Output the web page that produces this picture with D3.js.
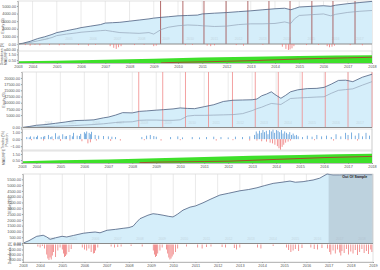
<!DOCTYPE html>
<html>
<head>
<meta charset="utf-8">
<script src="https://cdn.jsdelivr.net/npm/d3@7"></script>
<style>
body { margin: 0; background: #fff; }
svg text { font-family: "Liberation Sans", Arial, sans-serif; }
</style>
</head>
<body>
<svg id="chart" width="380" height="270"></svg>
<script>
// ---------- data ----------
var yearLabels = ["2003","2004","2005","2006","2007","2008","2009","2010","2011","2012","2013","2014","2015","2016","2017","2018"];
var p1TickVals = [2003.4,2004,2005,2006,2007,2008,2009,2010,2011,2012,2013,2014,2015,2016,2017,2018];

// panel 1 - equity
var p1Dates = [2003.4,2003.6,2003.9,2004.2,2004.5,2004.8,2005.0,2005.4,2005.8,2006.0,2006.4,2006.8,2007.0,2007.3,2007.6,2008.0,2008.4,2008.8,2009.0,2009.3,2009.6,2010.0,2010.4,2010.8,2011.0,2011.5,2012.0,2012.5,2013.0,2013.5,2014.0,2014.4,2014.65,2014.8,2015.0,2015.5,2016.0,2016.3,2016.5,2017.0,2017.5,2018.0];
var p1Equity = [0,100,350,700,950,1250,1500,1750,2000,2150,2350,2550,2750,2800,2850,3000,3150,3300,3400,3500,3580,3700,3750,3800,3950,4050,4130,4250,4360,4500,4630,4700,4500,4650,4860,4950,5030,4950,5100,5300,5450,5600];
var p1Equity2 = [0,50,200,400,600,850,1100,1300,1450,1550,1650,1750,1800,1650,1500,1450,1400,1500,1300,1900,2200,2400,2500,2450,2400,2300,2350,2550,2650,2650,2700,2900,2700,3300,3750,3850,3950,3700,3900,4150,4300,4400];
var p1Reopt = [2009.28,2010.2,2011.07,2011.98,2012.88,2013.75,2014.62,2015.52,2016.39,2017.3];
var p1DdDates = [2003.7,2003.9,2004.1,2004.3,2004.7,2005.1,2005.3,2005.9,2006.3,2006.6,2007.2,2007.35,2007.45,2007.55,2007.65,2008.2,2008.6,2009.0,2009.1,2010.3,2010.6,2011.2,2011.35,2011.5,2012.4,2012.7,2013.5,2014.3,2014.45,2014.55,2014.62,2014.7,2014.78,2015.3,2015.8,2016.15,2016.25,2016.35,2016.45,2017.1,2017.6];
var p1DdVals = [-10,-15,-8,-12,-10,-12,-8,-10,-15,-8,-20,-35,-45,-30,-20,-10,-8,-20,-15,-10,-8,-15,-20,-12,-10,-15,-8,-25,-45,-55,-50,-40,-20,-10,-8,-20,-30,-25,-15,-10,-12];
var p1IndDates = [2003.4,2005,2007,2009,2011,2013,2015,2016.5,2018];
var p1Green = [0.3,0.4,0.55,0.75,0.95,1.1,1.2,1.3,1.35];
var p1BrownDates = [2009.3,2010,2011,2012,2013,2014,2015,2016,2017,2018];
var p1Brown = [0.02,0.12,0.2,0.3,0.4,0.55,0.7,0.8,0.9,1.0];

// panel 2 - equity
var p2Dates = [2003.4,2003.7,2004.0,2004.4,2004.8,2005.2,2005.6,2006.0,2006.4,2006.8,2007.0,2007.3,2007.6,2008.0,2008.3,2008.6,2009.0,2009.3,2009.7,2010.0,2010.3,2010.6,2011.0,2011.4,2011.8,2012.2,2012.6,2013.0,2013.2,2013.4,2013.6,2013.8,2014.0,2014.2,2014.4,2014.6,2014.9,2015.3,2015.7,2016.0,2016.3,2016.6,2016.9,2017.2,2017.6,2018.0];
var p2Equity = [0,400,900,1200,1700,2200,2800,2900,3100,3900,4200,5000,6000,5900,6500,6700,7000,7200,7500,7900,7700,7600,8400,9200,10500,11000,11100,11200,11500,12800,13500,14400,13000,11800,13000,14400,15200,15700,15800,16200,17500,19000,19100,18500,20300,21500];
var p2Equity2 = [0,100,200,350,500,650,800,1000,1200,1500,1700,2000,2200,2300,2900,3000,3000,2900,2900,3100,4600,4900,4900,5000,5100,5200,5600,6800,7600,8200,9000,9700,9500,9300,10500,11700,11900,12100,12300,12400,13800,15000,15300,15600,17100,18500];
var p2Reopt = [2008.27,2009.27,2010.22,2011.18,2012.18,2013.13,2014.09,2015.09,2016.05,2017.0,2018.0];
var p2PosDates = [2003.6,2003.7,2003.75,2003.9,2004.0,2004.05,2004.2,2004.3,2004.35,2004.5,2004.6,2004.65,2004.8,2004.9,2004.95,2005.1,2005.2,2005.25,2005.4,2005.5,2005.55,2005.7,2005.8,2005.85,2006.0,2006.05,2006.1,2006.2,2006.25,2006.3,2006.45,2006.6,2006.8,2007.0,2007.15,2007.3,2008.4,2008.6,2008.75,2008.9,2009.0,2009.6,2009.9,2010.1,2010.5,2010.8,2011.1,2011.4,2011.7,2012.0,2012.3,2012.6,2012.9,2013.1,2013.17,2013.24,2013.31,2013.38,2013.45,2013.52,2013.59,2013.66,2013.73,2013.8,2013.87,2013.94,2014.01,2014.08,2014.15,2014.22,2014.29,2014.36,2014.43,2014.5,2014.57,2014.64,2014.71,2014.78,2014.85,2014.92,2015.1,2015.3,2015.5,2015.7,2015.9,2016.1,2016.3,2016.5,2016.7,2016.9,2017.0,2017.15,2017.3,2017.45,2017.6,2017.75,2017.9];
var p2PosVals = [0.3,0.25,0.4,0.35,0.3,0.5,0.3,0.35,0.45,0.6,0.3,0.4,0.85,0.35,0.5,0.7,0.4,0.45,0.6,0.4,0.9,0.5,0.45,0.75,1.0,0.8,1.1,0.9,0.7,1.05,0.6,0.5,0.45,0.4,0.35,0.3,0.3,0.5,0.6,0.45,0.35,0.3,0.4,0.25,0.3,0.25,0.3,0.35,0.3,0.25,0.35,0.3,0.4,0.6,1.1,0.8,1.2,0.9,1.3,1.0,1.2,0.7,1.3,1.1,1.35,0.9,1.3,1.2,1.0,1.3,0.8,1.1,0.9,0.7,1.0,0.6,0.8,0.5,0.6,0.4,0.3,0.5,0.35,0.6,0.4,0.5,0.3,0.7,0.4,0.9,0.6,0.95,0.5,0.85,0.4,0.9,0.5];
var p2NegDates = [2003.8,2004.3,2004.7,2005.0,2005.4,2005.9,2006.15,2006.25,2006.5,2007.1,2007.5,2008.5,2009.2,2010.0,2011.5,2012.2,2012.9,2013.2,2013.4,2013.6,2013.75,2013.85,2013.95,2014.05,2014.12,2014.18,2014.25,2014.32,2014.4,2014.5,2014.6,2015.6,2016.4,2017.0,2017.4];
var p2NegVals = [-0.15,-0.2,-0.15,-0.25,-0.2,-0.3,-0.6,-0.45,-0.2,-0.25,-0.2,-0.15,-0.2,-0.15,-0.2,-0.15,-0.2,-0.2,-0.3,-0.35,-0.5,-0.6,-0.8,-1.0,-1.3,-1.5,-1.1,-0.8,-0.5,-0.35,-0.2,-0.15,-0.2,-0.15,-0.2];
var p2IndDates = [2003.4,2005,2007,2009,2011,2013,2015,2016.5,2018];
var p2Green = [0.3,0.45,0.6,0.8,1.0,1.2,1.35,1.45,1.55];
var p2BrownDates = [2008.3,2009,2010,2011,2012,2013,2014,2015,2016,2017,2018];
var p2Brown = [0.05,0.15,0.2,0.25,0.3,0.45,0.6,0.75,0.9,1.0,1.1];

// panel 3 - combined out-of-sample equity
var p3TickVals = [2003.23,2004,2005,2006,2007,2008,2009,2010,2011,2012,2013,2014,2015,2016,2017,2018,2019];
var p3TickLabels = ["2003","2004","2005","2006","2007","2008","2009","2010","2011","2012","2013","2014","2015","2016","2017","2018","2019"];
var p3Dates = [2003.25,2003.5,2003.85,2004.0,2004.14,2004.3,2004.45,2004.7,2004.99,2005.2,2005.5,2005.94,2006.2,2006.48,2006.7,2007.02,2007.4,2007.74,2008.0,2008.19,2008.35,2008.5,2008.86,2009.09,2009.3,2009.54,2009.8,2009.99,2010.2,2010.44,2010.76,2011.0,2011.34,2011.7,2012.1,2012.5,2013.0,2013.4,2013.77,2014.1,2014.5,2014.9,2015.26,2015.5,2015.85,2016.1,2016.3,2016.6,2016.93,2017.2,2017.5,2017.8,2018.2,2018.6,2018.95];
var p3Equity = [0,200,580,620,670,520,320,450,580,520,650,840,900,950,880,1100,1180,1270,1330,1450,1800,2100,2400,2530,2480,2400,2300,2250,2500,2840,3100,3200,3470,3800,4140,4300,4510,4620,4770,4950,5150,5250,5350,5250,5300,5380,5440,5600,5960,5870,5870,5900,5880,5900,5900];
var p3OosStart = 2017.0;
var p3DdDates = [2003.9,2004.0,2004.1,2004.2,2004.3,2004.35,2004.4,2004.45,2004.5,2004.55,2004.6,2004.7,2004.8,2004.9,2005.0,2005.05,2005.1,2005.15,2005.2,2005.3,2005.4,2005.9,2006.0,2006.1,2006.2,2006.3,2006.4,2006.45,2006.5,2006.6,2007.2,2007.35,2007.5,2007.65,2008.1,2008.6,2009.1,2009.15,2009.2,2009.25,2009.3,2009.4,2009.5,2009.7,2009.75,2009.8,2009.85,2009.9,2009.95,2010.0,2010.1,2010.2,2010.6,2011.1,2011.3,2011.5,2011.7,2012.2,2012.35,2012.75,2012.85,2013.0,2013.8,2013.95,2014.5,2015.1,2015.2,2015.3,2015.4,2015.5,2015.65,2015.8,2016.2,2016.35,2016.5,2016.7,2016.95,2017.05,2017.1,2017.2,2017.3,2017.4,2017.5,2017.55,2017.6,2017.7,2017.8,2017.9,2018.0,2018.1,2018.2,2018.3,2018.4,2018.5,2018.6,2018.7,2018.8,2018.9,2018.95];
var p3DdVals = [-40,-60,-30,-80,-200,-280,-310,-260,-300,-220,-150,-250,-120,-60,-100,-180,-250,-230,-200,-150,-90,-60,-100,-120,-80,-150,-180,-170,-120,-60,-40,-60,-50,-40,-30,-40,-120,-200,-250,-230,-180,-120,-60,-100,-180,-260,-300,-280,-240,-200,-150,-80,-40,-60,-80,-50,-40,-50,-60,-70,-100,-60,-60,-80,-30,-60,-110,-150,-120,-90,-130,-70,-60,-90,-100,-70,-80,-150,-200,-120,-180,-100,-160,-220,-130,-170,-90,-200,-140,-180,-110,-210,-150,-90,-170,-130,-190,-100,-150];

// ---------- drawing ----------
var svg = d3.select("#chart");
var fmt = d3.format(".2f");

var styleAxis = function(g)
{
    g.attr("font-size", 3.8).attr("font-family", "Liberation Sans, Arial, sans-serif");
    g.selectAll("text").attr("fill", "#555");
    g.selectAll("line").attr("stroke", "#999");
    g.select(".domain").attr("stroke", "#bbb");
}

var frame = function(x0, x1, y0, y1)
{
    svg.append("rect")
        .attr("x", x0).attr("y", y0)
        .attr("width", x1 - x0).attr("height", y1 - y0)
        .attr("fill", "none")
        .attr("stroke", "#ccc")
        .attr("stroke-width", 0.6)
}

var yTitle = function(txt, x, y)
{
    svg.append("text")
        .attr("transform", "translate(" + x + "," + y + ") rotate(-90)")
        .attr("text-anchor", "middle")
        .attr("font-size", 3.6)
        .attr("fill", "#555")
        .text(txt)
}

var drawEquity = function(xs, ys, dates, vals, vals2, top, bottom, gridTicks, reopt, reoptColor)
{
    // year grid
    svg.append("g").selectAll("line")
        .data(gridTicks)
        .enter()
        .append("line")
        .attr("x1", d => xs(d)).attr("x2", d => xs(d))
        .attr("y1", top).attr("y2", bottom)
        .attr("stroke", "#dcdcdc")
        .attr("stroke-width", 0.6)

    var pts = dates.map((d, i) => [d, vals[i]]);
    var area = d3.area().x(d => xs(d[0])).y0(ys(0)).y1(d => ys(d[1]));
    var line = d3.line().x(d => xs(d[0])).y(d => ys(d[1]));

    svg.append("path")
        .datum(pts)
        .attr("d", area)
        .attr("fill", "#d5eefa")

    // faint year text inside the plot
    svg.append("g").selectAll("text")
        .data(gridTicks.slice(1, gridTicks.length - 1))
        .enter()
        .append("text")
        .attr("x", d => xs(d + 0.5))
        .attr("y", bottom - 4)
        .attr("text-anchor", "middle")
        .attr("font-size", 3.4)
        .attr("fill", "#c4d6e2")
        .text(d => Math.round(d))

    if (reopt)
    {
        svg.append("g").selectAll("line")
            .data(reopt)
            .enter()
            .append("line")
            .attr("x1", d => xs(d)).attr("x2", d => xs(d))
            .attr("y1", top).attr("y2", bottom)
            .attr("stroke", reoptColor)
            .attr("stroke-width", 0.8)
    }

    if (vals2)
    {
        svg.append("path")
            .datum(dates.map((d, i) => [d, vals2[i]]))
            .attr("d", line)
            .attr("fill", "none")
            .attr("stroke", "#93a3b8")
            .attr("stroke-width", 0.7)
    }

    svg.append("path")
        .datum(pts)
        .attr("d", line)
        .attr("fill", "none")
        .attr("stroke", "#4d5f80")
        .attr("stroke-width", 0.8)

    svg.append("line")
        .attr("x1", xs.range()[0]).attr("x2", xs.range()[1])
        .attr("y1", bottom).attr("y2", bottom)
        .attr("stroke", "#8a8a8a")
        .attr("stroke-width", 1)
}

var drawBars = function(xs, ys, dates, vals, color)
{
    svg.append("g").selectAll("rect")
        .data(dates.map((d, i) => [d, vals[i]]))
        .enter()
        .append("rect")
        .attr("x", d => xs(d[0]) - 0.4)
        .attr("width", 0.8)
        .attr("y", d => Math.min(ys(0), ys(d[1])))
        .attr("height", d => Math.abs(ys(d[1]) - ys(0)))
        .attr("fill", color)
}

var drawIndicator = function(xs, ys, dates, green, bDates, brown)
{
    svg.append("path")
        .datum(dates.map((d, i) => [d, green[i]]))
        .attr("d", d3.area().x(d => xs(d[0])).y0(ys(0)).y1(d => ys(d[1])))
        .attr("fill", "#3ee02a")
    svg.append("path")
        .datum(bDates.map((d, i) => [d, brown[i]]))
        .attr("d", d3.line().x(d => xs(d[0])).y(d => ys(d[1])))
        .attr("fill", "none")
        .attr("stroke", "#a0522d")
        .attr("stroke-width", 1)
}

// ===== panel 1 =====
var x1 = d3.scaleLinear().domain([2003.4, 2018]).range([18, 372]);
var y1 = d3.scaleLinear().domain([0, 5650]).range([44, 1]);
var y1dd = d3.scaleLinear().domain([-60, 0]).range([50.5, 44]);
var y1ind = d3.scaleLinear().domain([0, 2]).range([63, 51.5]);

frame(18, 372, 1, 63);
drawEquity(x1, y1, p1Dates, p1Equity, p1Equity2, 1, 44, p1TickVals, p1Reopt, "#a04646");
drawBars(x1, y1dd, p1DdDates, p1DdVals, "#ee7a7a");
frame(18, 372, 51, 63);
drawIndicator(x1, y1ind, p1IndDates, p1Green, p1BrownDates, p1Brown);

svg.append("g").attr("transform", "translate(18,0)")
    .call(d3.axisLeft(y1).tickValues([0,1000,2000,3000,4000,5000]).tickFormat(fmt).tickSize(1).tickPadding(1))
    .call(styleAxis);
svg.append("g").attr("transform", "translate(18,0)")
    .call(d3.axisLeft(y1dd).tickValues([-50]).tickFormat(fmt).tickSize(1).tickPadding(1))
    .call(styleAxis);
svg.append("g").attr("transform", "translate(18,0)")
    .call(d3.axisLeft(y1ind).tickValues([0.5, 1.5]).tickFormat(fmt).tickSize(1).tickPadding(1))
    .call(styleAxis);
svg.append("g").attr("transform", "translate(0,63)")
    .call(d3.axisBottom(x1).tickValues(p1TickVals).tickFormat((d, i) => yearLabels[i]).tickSize(1).tickPadding(1))
    .call(styleAxis);
yTitle("Equity ($)", 4, 26);
yTitle("Drawdown ($)", 3, 54);
yTitle("MAE/MFE", 7, 57);

// ===== panel 2 =====
var x2 = d3.scaleLinear().domain([2003.4, 2018]).range([22, 372]);
var y2 = d3.scaleLinear().domain([0, 22400]).range([127.5, 72]);
var y2b = d3.scaleLinear().domain([-1.55, 1.45]).range([150, 129]);
var y2ind = d3.scaleLinear().domain([0, 2]).range([163, 151]);

frame(22, 372, 72, 163);
drawEquity(x2, y2, p2Dates, p2Equity, p2Equity2, 72, 127.5, p1TickVals, p2Reopt, "#f08a8a");
frame(22, 372, 129, 150);
drawBars(x2, y2b, p2PosDates, p2PosVals, "#5b9bd8");
drawBars(x2, y2b, p2NegDates, p2NegVals, "#ee7a7a");
frame(22, 372, 151, 163);
drawIndicator(x2, y2ind, p2IndDates, p2Green, p2BrownDates, p2Brown);

svg.append("g").attr("transform", "translate(22,0)")
    .call(d3.axisLeft(y2).tickValues([0,5000,7500,10000,12500,15000,17500,20000]).tickFormat(fmt).tickSize(1).tickPadding(1))
    .call(styleAxis);
svg.append("g").attr("transform", "translate(22,0)")
    .call(d3.axisLeft(y2b).tickValues([-1, 0, 1]).tickFormat(fmt).tickSize(1).tickPadding(1))
    .call(styleAxis);
svg.append("g").attr("transform", "translate(22,0)")
    .call(d3.axisLeft(y2ind).tickValues([0.5, 1.5]).tickFormat(fmt).tickSize(1).tickPadding(1))
    .call(styleAxis);
svg.append("g").attr("transform", "translate(0,163)")
    .call(d3.axisBottom(x2).tickValues(p1TickVals).tickFormat((d, i) => yearLabels[i]).tickSize(1).tickPadding(1))
    .call(styleAxis);
yTitle("Equity ($)", 5, 100);
yTitle("Trades (%)", 4, 140);
yTitle("Position", 8, 140);
yTitle("MAE/MFE", 5, 157);

// ===== panel 3 =====
var x3 = d3.scaleLinear().domain([2003.23, 2019]).range([23, 373]);
var y3 = d3.scaleLinear().domain([0, 5960]).range([243, 174]);
var y3dd = d3.scaleLinear().domain([-350, 0]).range([262, 244.5]);

frame(23, 373, 174, 262);
drawEquity(x3, y3, p3Dates, p3Equity, null, 174, 243.5, p3TickVals, null, null);

// out of sample shading
svg.append("rect")
    .attr("x", x3(p3OosStart))
    .attr("y", 174)
    .attr("width", x3(2019) - x3(p3OosStart))
    .attr("height", 243.5 - 174)
    .attr("fill", "#9fb0bc")
    .attr("opacity", 0.45)
svg.append("text")
    .attr("x", (x3(p3OosStart) + x3(2019)) / 2 + 4)
    .attr("y", 178)
    .attr("text-anchor", "middle")
    .attr("font-size", 3.6)
    .attr("font-weight", "bold")
    .attr("fill", "#222")
    .text("Out Of Sample")

drawBars(x3, y3dd, p3DdDates, p3DdVals, "#ee7a7a");

svg.append("g").attr("transform", "translate(23,0)")
    .call(d3.axisLeft(y3).tickValues([0,500,1000,1500,2000,2500,3000,3500,4000,4500,5000,5500]).tickFormat(fmt).tickSize(1).tickPadding(1))
    .call(styleAxis);
svg.append("g").attr("transform", "translate(23,0)")
    .call(d3.axisLeft(y3dd).tickValues([0,-100,-200,-300]).tickFormat(fmt).tickSize(1).tickPadding(1))
    .call(styleAxis);
svg.append("g").attr("transform", "translate(0,262)")
    .call(d3.axisBottom(x3).tickValues(p3TickVals).tickFormat((d, i) => p3TickLabels[i]).tickSize(1).tickPadding(1))
    .call(styleAxis);
yTitle("Equity ($)", 11, 205);
yTitle("Drawdown ($)", 11, 253);
</script>
</body>
</html>
